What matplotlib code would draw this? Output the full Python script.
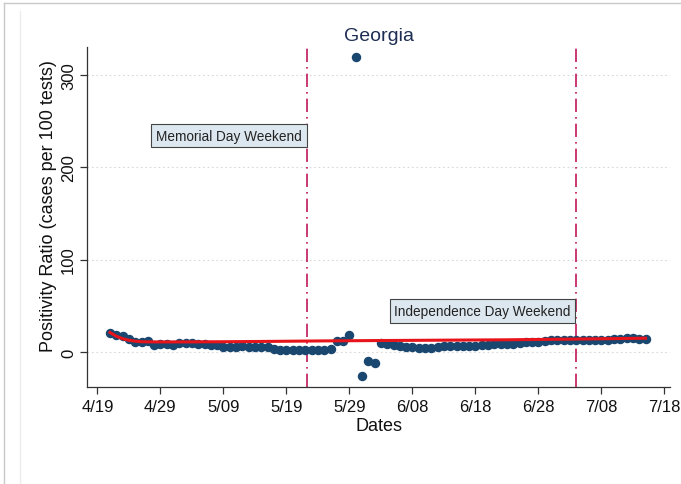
import numpy as np
import pandas as pd
import matplotlib
matplotlib.use('Agg')
import matplotlib.pyplot as plt
import matplotlib.lines as mlines

plt.rcParams['font.family'] = ['Liberation Sans', 'DejaVu Sans']

# Daily positivity ratio, 4/21 .. 7/15
dates = pd.date_range('2020-04-21', '2020-07-15', freq='D')
ratio = [20.9, 18.7, 17.7, 13.7, 10.8, 10.8, 11.9, 7.9, 9.0, 9.0,
         7.2, 10.1, 10.1, 10.1, 8.3, 8.3, 7.2, 7.2, 5.7, 5.7,
         5.7, 6.5, 5.7, 5.7, 5.0, 5.0, 3.2, 2.5, 2.5, 2.5,
         2.5, 2.5, 2.5, 2.5, 2.5,
         2.8, 11.5, 11.5, 18.7, 319, -26, -10, -11.6,
         10.1, 8.3, 7.2, 6.1, 5.4, 5.0, 4.7, 4.7, 4.7, 5.4,
         6.1, 6.5, 6.5, 6.5, 6.5, 6.8, 7.2, 7.9, 8.7, 9.0,
         9.0, 9.0, 9.7, 10.4, 10.8, 10.8, 11.5, 13.0, 13.3, 13.3,
         13.3, 12.6, 12.6, 12.6, 12.6, 13.3, 13.3, 13.7, 14.4, 15.2,
         15.2, 14.4, 14.4]

# Fitted (smoothed) curve
fit_dates = pd.to_datetime(['2020-04-21', '2020-04-22', '2020-04-23', '2020-04-24',
                            '2020-04-25', '2020-04-26', '2020-04-28', '2020-05-03',
                            '2020-05-09', '2020-05-17', '2020-05-25', '2020-06-03',
                            '2020-06-13', '2020-06-23', '2020-07-03', '2020-07-15'])
fit_vals = [21, 17, 14.3, 12.6, 11.6, 11.0, 10.8, 10.8,
            11.0, 11.4, 11.9, 12.3, 12.7, 13.1, 13.8, 14.8]

events = pd.to_datetime(['2020-05-22 08:00', '2020-07-04 00:00'])
event_labels = ['Memorial Day Weekend', 'Independence Day Weekend']
event_label_y = [234, 44]

tick_dates = pd.date_range('2020-04-19', periods=10, freq='10D')
tick_labels = ['4/19', '4/29', '5/09', '5/19', '5/29', '6/08', '6/18', '6/28', '7/08', '7/18']

navy = '#1a476f'
line_col = '#c0185a'

fig = plt.figure(figsize=(6.81, 4.85), dpi=100)
ax = fig.add_axes([0.128, 0.2, 0.856, 0.701])

# screenshot frame
fig.add_artist(mlines.Line2D([0.006, 1], [0.991, 0.991], color='#c8c8c8', lw=1, transform=fig.transFigure))
fig.add_artist(mlines.Line2D([0.006, 0.006], [0, 0.991], color='#c8c8c8', lw=1, transform=fig.transFigure))
fig.add_artist(mlines.Line2D([0.029, 0.029], [0, 0.975], color='#ececec', lw=1, transform=fig.transFigure))

for y in [0, 100, 200, 300]:
    ax.axhline(y, color='#d8d8d8', lw=0.8, ls=(0, (1.5, 2.5)), zorder=0)

ax.plot(dates, ratio, 'o', color=navy, markersize=5.8, zorder=3)
ax.plot(fit_dates, fit_vals, color='#e8141b', lw=2.2, zorder=4)

for d, lab, yy in zip(events, event_labels, event_label_y):
    ax.axvline(d, color=line_col, lw=1.2, ls=(0, (8, 3, 1, 3)), zorder=2)
    ax.annotate(lab, xy=(d, yy), xytext=(-4, 0), textcoords='offset points',
                ha='right', va='center', fontsize=9.8, color='#222222',
                bbox=dict(boxstyle='square,pad=0.35', fc='#dde7ef', ec='#444444', lw=0.8),
                zorder=5)

ax.set_xlim(pd.Timestamp('2020-04-17 09:00'), pd.Timestamp('2020-07-18 21:30'))
ax.set_ylim(-38, 330)
ax.set_xticks(tick_dates)
ax.set_xticklabels(tick_labels)
ax.set_yticks([0, 100, 200, 300])
ax.set_yticklabels(['0', '100', '200', '300'], rotation=90, va='center')

for s in ['top', 'right']:
    ax.spines[s].set_visible(False)
for s in ['left', 'bottom']:
    ax.spines[s].set_color('#333333')
    ax.spines[s].set_linewidth(0.9)
ax.tick_params(axis='both', length=5, width=0.9, color='#333333', labelsize=12, labelcolor='#111111')
ax.tick_params(axis='y', pad=3)

ax.set_xlabel('Dates', fontsize=13, color='#111111', labelpad=2)
ax.set_ylabel('Positivity Ratio (cases per 100 tests)', fontsize=13, color='#111111')
ax.yaxis.set_label_coords(-0.052, 0.535)
ax.set_title('Georgia', fontsize=14, color='#1e2d53', pad=5)

fig.savefig('out.png', dpi=100)
